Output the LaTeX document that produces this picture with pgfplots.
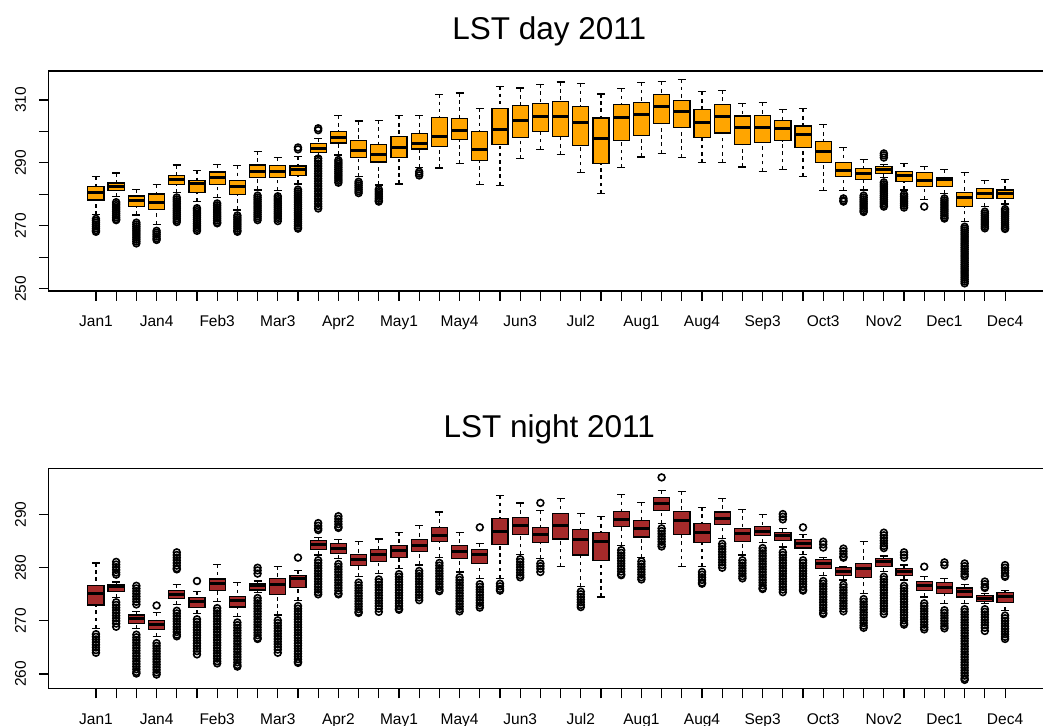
\documentclass[border=0pt]{standalone}
\usepackage{fontspec}
\setmainfont{Liberation Sans}
\usepackage{pgfplots}
\pgfplotsset{compat=1.18}
\usepgfplotslibrary{statistics}
\definecolor{Rorange}{RGB}{255,165,0}
\definecolor{Rbrown}{RGB}{165,42,42}
\pgfplotsset{
  boxplot/draw/lower whisker/.code={%
    \draw[dash pattern=on 1.8pt off 1.8pt] (boxplot cs:\pgfplotsboxplotvalue{lower whisker}) -- (boxplot cs:\pgfplotsboxplotvalue{lower quartile});
    \draw[solid] (boxplot whisker cs:\pgfplotsboxplotvalue{lower whisker},0) -- (boxplot whisker cs:\pgfplotsboxplotvalue{lower whisker},1);
  },
  boxplot/draw/upper whisker/.code={%
    \draw[dash pattern=on 1.8pt off 1.8pt] (boxplot cs:\pgfplotsboxplotvalue{upper whisker}) -- (boxplot cs:\pgfplotsboxplotvalue{upper quartile});
    \draw[solid] (boxplot whisker cs:\pgfplotsboxplotvalue{upper whisker},0) -- (boxplot whisker cs:\pgfplotsboxplotvalue{upper whisker},1);
  },
  outl/.style={black, line width=0.6pt, mark=o, mark size=1.7pt, mark options={line width=0.8pt, solid}},
  rbox/.style={
    scale only axis, width=501.8pt, height=110pt, anchor=south west,
    xmin=-1.34, xmax=48.34,
    boxplot/draw direction=y,
    boxplot/box extend=0.8, boxplot/whisker extend=0.4,
    boxplot/every median/.style={line width=1.5pt},
    xtick={1,...,46},
    xticklabels={Jan1,,,Jan4,,,Feb3,,,Mar3,,,Apr2,,,May1,,,May4,,,Jun3,,,Jul2,,,Aug1,,,Aug4,,,Sep3,,,Oct3,,,Nov2,,,Dec1,,,Dec4},
    tick align=outside, major tick length=4.85pt,
    xtick pos=bottom, ytick pos=left,
    tick style={black, line width=0.55pt},
    axis line style={line width=0.6pt},
    tick label style={font=\fontsize{7.75}{9}\selectfont},
    xticklabel style={anchor=base, inner sep=0pt, yshift=-13pt},
    yticklabel style={xshift=-6.3pt, rotate=90, anchor=south, inner sep=0pt},
  },
}
\newcommand{\bx}[7]{\addplot[outl, boxplot prepared={draw position=#1,lower whisker=#2,lower quartile=#3,median=#4,upper quartile=#5,upper whisker=#6}] table[row sep=\\,y index=0]{#7};}
\newcommand{\bxn}[6]{\addplot[outl, boxplot prepared={draw position=#1,lower whisker=#2,lower quartile=#3,median=#4,upper quartile=#5,upper whisker=#6}] coordinates {};}
\begin{document}
\begin{tikzpicture}
\path[use as bounding box] (0,0) rectangle (521.5pt,363pt);
\begin{axis}[rbox, at={(24.35pt,217.5pt)}, ymin=249.27, ymax=319.22,
  ytick={250,260,...,310}, yticklabels={250,,270,,290,,310},
  boxplot/every box/.style={draw=black, fill=Rorange, line width=0.6pt}]
\bx{1}{273.5}{278.2}{280.7}{282.5}{285.6}{272.2\\271.6\\271.0\\270.4\\269.8\\269.2\\268.6\\268.1\\}
\bx{2}{279.3}{281.2}{282.4}{283.6}{286.8}{277.5\\276.9\\276.3\\275.7\\275.1\\274.5\\273.9\\273.3\\272.7\\272.1\\271.8\\}
\bx{3}{273.4}{276.2}{277.9}{279.5}{281.6}{271.0\\270.4\\269.8\\269.2\\268.6\\268.0\\267.4\\266.8\\266.2\\265.6\\265.0\\264.4\\}
\bx{4}{270.5}{275.2}{277.5}{280.1}{283.1}{268.4\\267.8\\267.2\\266.6\\266.0\\265.5\\}
\bx{5}{280.5}{283.1}{284.6}{285.9}{289.3}{279.0\\278.4\\277.8\\277.2\\276.6\\276.0\\275.4\\274.8\\274.2\\273.6\\273.0\\272.4\\271.8\\271.2\\}
\bx{6}{277.7}{280.7}{283.3}{284.3}{287.6}{275.6\\275.0\\274.4\\273.8\\273.2\\272.6\\272.0\\271.4\\270.8\\270.2\\269.6\\269.0\\268.4\\}
\bx{7}{279.0}{283.2}{285.5}{287.1}{289.4}{277.1\\276.5\\275.9\\275.3\\274.7\\274.1\\273.5\\272.9\\272.3\\271.7\\271.1\\270.8\\}
\bx{8}{275.0}{279.9}{282.5}{284.3}{289.2}{273.3\\272.7\\272.1\\271.5\\270.9\\270.3\\269.7\\269.1\\268.5\\268.1\\}
\bx{9}{281.4}{285.4}{287.3}{289.3}{293.7}{279.6\\279.0\\278.4\\277.8\\277.2\\276.6\\276.0\\275.4\\274.8\\274.2\\273.6\\273.0\\272.4\\271.8\\}
\bx{10}{281.2}{285.4}{287.4}{289.2}{291.7}{279.4\\278.8\\278.2\\277.6\\277.0\\276.4\\275.8\\275.2\\274.6\\274.0\\273.4\\272.8\\272.2\\271.5\\}
\bx{11}{283.3}{286.0}{287.8}{289.0}{292.0}{294.9\\294.3\\281.5\\280.9\\280.3\\279.7\\279.1\\278.5\\277.9\\277.3\\276.7\\276.1\\275.5\\274.9\\274.3\\273.7\\273.1\\272.5\\271.9\\271.3\\270.7\\270.1\\269.5\\269.1\\}
\bx{12}{292.0}{293.2}{294.7}{296.2}{297.8}{301.0\\300.4\\291.4\\290.6\\289.8\\289.0\\288.2\\287.4\\286.6\\285.8\\285.0\\284.2\\283.4\\282.6\\281.8\\281.0\\280.2\\279.4\\278.6\\277.8\\277.0\\276.2\\275.5\\}
\bx{13}{292.5}{296.3}{298.2}{300.0}{305.0}{290.9\\290.3\\289.7\\289.1\\288.5\\287.9\\287.3\\286.7\\286.1\\285.5\\284.9\\284.3\\283.7\\}
\bx{14}{285.6}{291.7}{293.9}{297.0}{303.3}{284.0\\283.4\\282.8\\282.2\\281.6\\281.0\\280.4\\}
\bx{15}{283.0}{290.3}{292.6}{295.9}{303.6}{281.6\\281.0\\280.4\\279.8\\279.2\\278.6\\278.0\\277.7\\}
\bxn{16}{283.3}{291.8}{295.0}{298.5}{305.0}
\bx{17}{288.6}{294.4}{296.3}{299.4}{305.0}{287.2\\286.6\\286.0\\}
\bxn{18}{288.4}{295.3}{298.3}{304.5}{311.8}
\bxn{19}{289.9}{297.4}{300.2}{304.1}{312.2}
\bxn{20}{283.2}{290.7}{294.4}{300.0}{307.4}
\bxn{21}{282.9}{295.9}{300.7}{307.2}{314.3}
\bxn{22}{291.3}{298.1}{303.5}{308.2}{313.8}
\bxn{23}{294.3}{300.1}{304.7}{308.9}{315.0}
\bxn{24}{292.6}{298.5}{304.7}{309.5}{315.7}
\bxn{25}{286.9}{295.5}{302.7}{308.0}{315.2}
\bxn{26}{280.3}{289.9}{297.8}{304.3}{311.9}
\bxn{27}{288.5}{297.2}{304.3}{308.6}{313.6}
\bxn{28}{291.9}{298.6}{305.5}{309.2}{315.5}
\bxn{29}{293.1}{302.6}{308.0}{311.7}{315.8}
\bxn{30}{291.8}{301.3}{306.3}{309.9}{316.5}
\bxn{31}{290.0}{298.0}{302.8}{307.0}{312.6}
\bxn{32}{290.0}{299.5}{304.7}{308.5}{313.1}
\bxn{33}{288.7}{295.9}{301.3}{304.9}{308.9}
\bxn{34}{287.2}{296.5}{301.4}{305.1}{309.1}
\bxn{35}{287.9}{297.1}{300.8}{303.5}{307.0}
\bxn{36}{285.7}{294.8}{299.1}{301.7}{307.2}
\bxn{37}{281.3}{290.2}{293.6}{296.8}{302.1}
\bx{38}{281.2}{285.6}{287.7}{290.1}{294.9}{278.7\\278.1\\277.7\\}
\bx{39}{281.4}{284.6}{286.7}{288.2}{291.2}{279.6\\279.0\\278.4\\277.8\\277.2\\276.6\\276.0\\275.4\\274.8\\274.4\\}
\bx{40}{285.4}{286.7}{288.0}{288.8}{289.5}{293.0\\292.4\\291.7\\283.8\\283.2\\282.6\\282.0\\281.4\\280.8\\280.2\\279.6\\279.0\\278.4\\277.8\\277.2\\276.6\\276.1\\}
\bx{41}{281.4}{284.2}{285.9}{287.3}{289.7}{280.0\\279.4\\278.8\\278.2\\277.6\\277.0\\276.4\\275.8\\}
\bx{42}{278.4}{282.4}{284.3}{286.9}{288.8}{276.1\\}
\bx{43}{280.3}{282.6}{284.6}{285.4}{287.9}{278.7\\278.1\\277.5\\276.9\\276.3\\275.7\\275.1\\274.5\\273.9\\273.3\\272.7\\272.3\\}
\bx{44}{271.3}{276.1}{278.9}{280.6}{286.9}{269.7\\269.1\\268.5\\267.9\\267.3\\266.7\\266.1\\265.5\\264.9\\264.3\\263.7\\263.1\\262.5\\261.9\\261.3\\260.7\\260.1\\259.5\\258.9\\258.3\\257.7\\257.1\\256.5\\255.9\\255.3\\254.7\\254.1\\253.5\\252.9\\252.3\\251.7\\}
\bx{45}{276.1}{278.8}{280.3}{281.9}{284.3}{274.5\\273.9\\273.3\\272.7\\272.1\\271.5\\270.9\\270.3\\269.7\\269.2\\}
\bx{46}{276.9}{278.8}{280.4}{281.4}{284.8}{275.3\\274.7\\274.1\\273.5\\272.9\\272.3\\271.7\\271.1\\270.5\\269.9\\269.3\\269.0\\}
\end{axis}
\begin{axis}[rbox, at={(24.35pt,18.65pt)}, ymin=257.24, ymax=298.64,
  ytick={260,270,280,290}, yticklabels={260,270,280,290},
  boxplot/every box/.style={draw=black, fill=Rbrown, line width=0.6pt}]
\bx{1}{268.6}{273.0}{275.1}{276.7}{280.9}{267.5\\267.0\\266.5\\266.0\\265.5\\265.0\\264.5\\264.0\\}
\bx{2}{274.4}{275.6}{276.5}{276.9}{277.3}{281.1\\280.6\\280.1\\279.6\\279.1\\278.7\\273.5\\273.0\\272.5\\272.0\\271.5\\271.0\\270.5\\270.0\\269.5\\268.9\\}
\bx{3}{268.5}{269.5}{270.4}{271.1}{271.7}{276.6\\276.1\\275.6\\275.1\\274.6\\274.1\\273.6\\273.1\\267.4\\266.9\\266.4\\265.9\\265.4\\264.9\\264.4\\263.9\\263.4\\262.9\\262.4\\261.9\\261.4\\260.9\\260.4\\260.1\\}
\bx{4}{267.0}{268.4}{269.3}{270.1}{271.6}{272.9\\265.8\\265.3\\264.8\\264.3\\263.8\\263.3\\262.8\\262.3\\261.8\\261.3\\260.8\\260.3\\259.9\\}
\bx{5}{273.1}{274.2}{274.9}{275.7}{276.9}{282.9\\282.4\\281.9\\281.4\\280.9\\280.4\\279.9\\279.7\\271.9\\271.4\\270.9\\270.4\\269.9\\269.4\\268.9\\268.4\\267.9\\267.4\\267.1\\}
\bx{6}{271.4}{272.5}{273.7}{274.4}{275.5}{277.5\\270.3\\269.8\\269.3\\268.8\\268.3\\267.8\\267.3\\266.8\\266.3\\265.8\\265.3\\264.8\\264.3\\263.7\\}
\bx{7}{273.6}{275.7}{277.1}{277.9}{280.6}{272.4\\271.9\\271.4\\270.9\\270.4\\269.9\\269.4\\268.9\\268.4\\267.9\\267.4\\266.9\\266.4\\265.9\\265.4\\264.9\\264.4\\263.9\\263.4\\262.9\\262.4\\262.0\\}
\bx{8}{270.8}{272.6}{273.8}{274.6}{277.2}{269.7\\269.2\\268.7\\268.2\\267.7\\267.2\\266.7\\266.2\\265.7\\265.2\\264.7\\264.2\\263.7\\263.2\\262.7\\262.2\\261.7\\261.4\\}
\bx{9}{275.3}{275.8}{276.7}{277.0}{277.5}{280.0\\279.5\\278.9\\274.3\\273.8\\273.3\\272.8\\272.3\\271.8\\271.3\\270.8\\270.3\\269.8\\269.3\\268.8\\268.3\\267.8\\267.3\\266.8\\266.6\\}
\bx{10}{271.1}{275.0}{276.8}{278.0}{280.3}{270.1\\269.6\\269.1\\268.6\\268.1\\267.6\\267.1\\266.6\\266.1\\265.6\\265.1\\264.6\\264.0\\}
\bx{11}{273.9}{276.3}{278.0}{278.5}{279.5}{281.9\\272.8\\272.3\\271.8\\271.3\\270.8\\270.3\\269.8\\269.3\\268.8\\268.3\\267.8\\267.3\\266.8\\266.3\\265.8\\265.3\\264.8\\264.3\\263.8\\263.3\\262.8\\262.3\\262.1\\}
\bx{12}{282.4}{283.4}{284.3}{285.1}{285.7}{288.4\\287.9\\287.4\\287.1\\281.4\\280.9\\280.4\\279.9\\279.4\\278.9\\278.4\\277.9\\277.4\\276.9\\276.4\\275.9\\275.4\\275.0\\}
\bx{13}{281.7}{282.7}{283.7}{284.6}{285.3}{289.7\\289.2\\288.7\\288.2\\287.7\\287.5\\280.7\\280.2\\279.7\\279.2\\278.7\\278.2\\277.7\\277.2\\276.7\\276.2\\275.7\\275.2\\275.0\\}
\bx{14}{278.3}{280.4}{281.5}{282.5}{284.9}{277.2\\276.7\\276.2\\275.7\\275.2\\274.7\\274.2\\273.7\\273.2\\272.7\\272.2\\271.7\\271.5\\}
\bx{15}{278.9}{281.1}{282.4}{283.4}{285.4}{277.8\\277.3\\276.8\\276.3\\275.8\\275.3\\274.8\\274.3\\273.8\\273.3\\272.8\\272.3\\271.7\\}
\bx{16}{279.8}{282.0}{283.3}{284.2}{286.7}{278.8\\278.3\\277.8\\277.3\\276.8\\276.3\\275.8\\275.3\\274.8\\274.3\\273.8\\273.3\\272.8\\272.3\\272.1\\}
\bx{17}{280.5}{283.0}{284.2}{285.3}{287.9}{279.4\\278.9\\278.4\\277.9\\277.4\\276.9\\276.4\\275.9\\275.4\\274.9\\274.4\\273.9\\}
\bx{18}{281.9}{284.9}{286.1}{287.5}{290.5}{280.9\\280.4\\279.9\\279.4\\278.9\\278.4\\277.9\\277.4\\276.9\\276.4\\275.9\\275.6\\}
\bx{19}{279.2}{281.7}{283.0}{284.2}{286.7}{278.2\\277.7\\277.2\\276.7\\276.2\\275.7\\275.2\\274.7\\274.2\\273.7\\273.2\\272.7\\272.2\\271.8\\}
\bx{20}{278.0}{280.8}{282.4}{283.4}{284.5}{287.6\\276.9\\276.4\\275.9\\275.4\\274.9\\274.4\\273.9\\273.4\\272.9\\272.5\\}
\bx{21}{278.0}{284.4}{286.9}{289.2}{293.6}{277.0\\276.5\\276.0\\275.7\\}
\bx{22}{282.5}{286.3}{288.0}{289.4}{292.2}{281.6\\281.1\\280.6\\280.1\\279.6\\279.1\\278.6\\278.2\\}
\bx{23}{281.7}{284.8}{286.2}{287.6}{290.8}{292.2\\280.8\\280.3\\279.8\\279.2\\}
\bxn{24}{280.2}{285.4}{288.0}{290.2}{293.0}
\bx{25}{276.4}{282.4}{285.3}{287.2}{290.2}{275.5\\275.0\\274.5\\274.0\\273.5\\273.0\\272.6\\}
\bxn{26}{274.5}{281.4}{285.0}{286.7}{289.6}
\bx{27}{284.2}{287.8}{289.1}{290.6}{293.8}{283.3\\282.8\\282.3\\281.8\\281.3\\280.8\\280.3\\279.8\\279.3\\278.8\\278.6\\}
\bx{28}{282.0}{285.8}{287.4}{288.9}{292.3}{281.2\\280.7\\280.2\\279.7\\279.2\\278.7\\278.2\\277.8\\}
\bx{29}{288.3}{290.8}{292.0}{293.2}{294.6}{297.0\\287.4\\286.9\\286.4\\285.9\\285.4\\284.9\\284.4\\284.0\\}
\bxn{30}{280.2}{286.2}{288.8}{290.6}{294.3}
\bx{31}{280.2}{284.8}{286.6}{288.4}{291.4}{279.2\\278.7\\278.2\\277.7\\277.2\\277.0\\}
\bx{32}{285.5}{288.1}{289.2}{290.5}{293.1}{284.5\\284.0\\283.5\\283.0\\282.5\\282.0\\281.5\\281.0\\280.5\\280.0\\}
\bx{33}{282.4}{285.0}{286.4}{287.4}{291.0}{281.4\\280.9\\280.4\\279.9\\279.4\\278.9\\278.4\\278.0\\}
\bx{34}{284.7}{286.1}{286.9}{287.7}{290.0}{283.7\\283.2\\282.7\\282.2\\281.7\\281.2\\280.7\\280.2\\279.7\\279.2\\278.7\\278.2\\277.7\\277.2\\276.7\\276.2\\276.0\\}
\bx{35}{283.9}{285.2}{286.0}{286.7}{287.4}{290.1\\289.6\\289.1\\282.9\\282.4\\281.9\\281.4\\280.9\\280.4\\279.9\\279.4\\278.9\\278.4\\277.9\\277.4\\276.9\\276.4\\275.9\\275.4\\}
\bx{36}{282.5}{283.7}{284.5}{285.3}{286.3}{287.6\\281.4\\280.9\\280.4\\279.9\\279.4\\278.9\\278.4\\277.9\\277.4\\276.9\\276.4\\275.9\\275.7\\}
\bx{37}{278.6}{279.9}{280.8}{281.5}{282.0}{284.9\\284.4\\283.8\\277.5\\277.0\\276.5\\276.0\\275.5\\275.0\\274.5\\274.0\\273.5\\273.0\\272.5\\272.0\\271.5\\271.3\\}
\bx{38}{277.7}{278.6}{279.3}{280.0}{280.3}{283.6\\283.1\\282.6\\282.1\\281.9\\276.8\\276.3\\275.8\\275.3\\274.8\\274.3\\273.8\\273.3\\272.8\\272.3\\271.8\\}
\bx{39}{275.2}{278.2}{279.8}{280.8}{284.9}{274.1\\273.6\\273.1\\272.6\\272.1\\271.6\\271.1\\270.6\\270.1\\269.6\\269.1\\268.7\\}
\bx{40}{279.3}{280.3}{281.1}{281.7}{282.2}{286.6\\286.1\\285.6\\285.1\\284.6\\284.1\\283.7\\278.3\\277.8\\277.3\\276.8\\276.3\\275.8\\275.3\\274.8\\274.3\\273.8\\273.3\\272.8\\272.3\\271.8\\271.3\\}
\bx{41}{277.7}{278.5}{279.2}{279.8}{280.5}{282.9\\282.4\\281.9\\276.6\\276.1\\275.6\\275.1\\274.6\\274.1\\273.6\\273.1\\272.6\\272.1\\271.6\\271.1\\270.6\\270.1\\269.6\\269.3\\}
\bx{42}{274.5}{275.7}{276.6}{277.4}{278.3}{280.2\\273.3\\272.8\\272.3\\271.8\\271.3\\270.8\\270.3\\269.8\\269.3\\268.8\\268.4\\}
\bx{43}{273.3}{275.2}{276.2}{277.2}{278.0}{281.0\\280.5\\272.0\\271.5\\271.0\\270.5\\270.0\\269.5\\269.0\\268.6\\}
\bx{44}{273.3}{274.5}{275.5}{276.2}{276.8}{280.8\\280.3\\279.8\\279.3\\278.8\\278.4\\272.2\\271.7\\271.2\\270.7\\270.2\\269.7\\269.2\\268.7\\268.2\\267.7\\267.2\\266.7\\266.2\\265.7\\265.2\\264.7\\264.2\\263.7\\263.2\\262.7\\262.2\\261.7\\261.2\\260.7\\260.2\\259.7\\259.2\\258.9\\}
\bx{45}{273.2}{273.7}{274.3}{274.8}{275.2}{277.4\\276.9\\276.4\\276.2\\272.2\\271.7\\271.2\\270.7\\270.2\\269.7\\269.2\\268.7\\268.1\\}
\bx{46}{272.0}{273.5}{274.5}{275.3}{275.7}{280.5\\280.0\\279.5\\279.0\\278.5\\278.3\\271.0\\270.5\\270.0\\269.5\\269.0\\268.5\\268.0\\267.5\\267.0\\266.6\\}
\end{axis}
\node[anchor=base, font=\fontsize{15.75}{18}\selectfont] at (274.6pt,343pt) {LST day 2011};
\node[anchor=base, font=\fontsize{15.75}{18}\selectfont] at (274.6pt,144.35pt) {LST night 2011};
\end{tikzpicture}
\end{document}
